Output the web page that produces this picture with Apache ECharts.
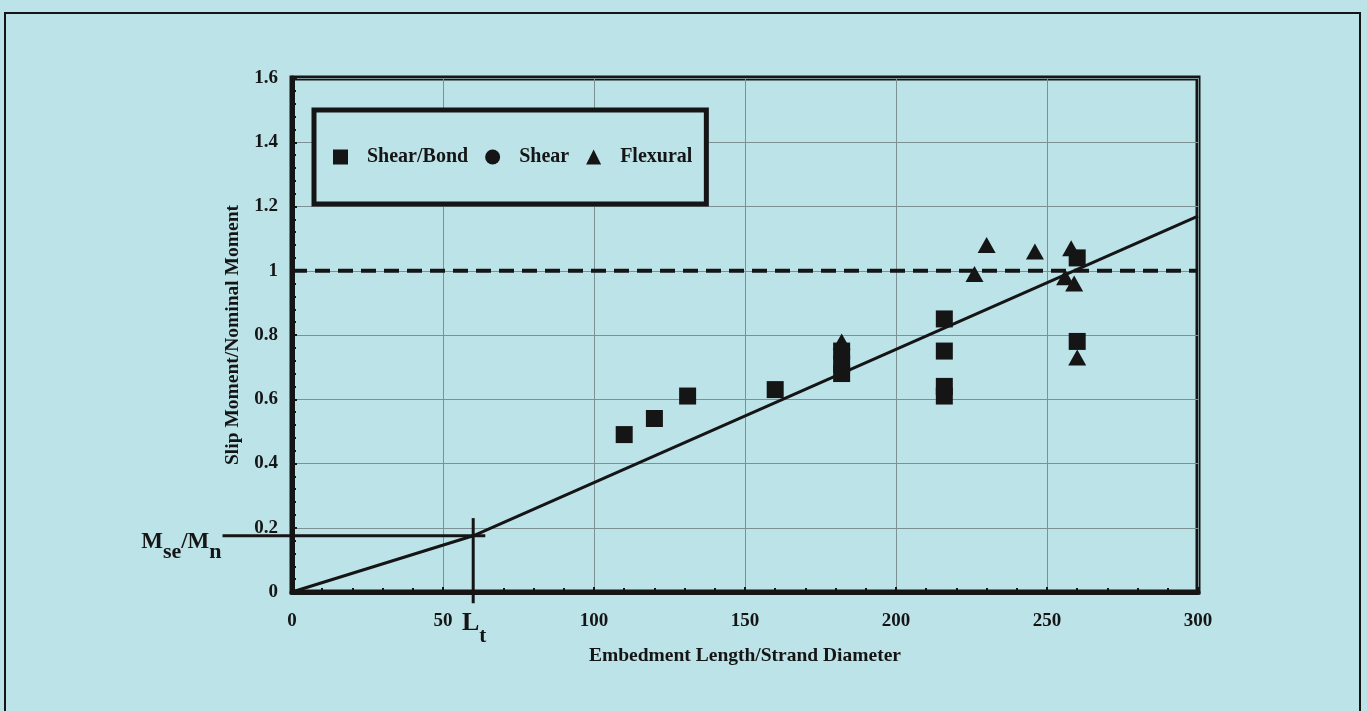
<!DOCTYPE html>
<html>
<head>
<meta charset="utf-8">
<title>Slip Moment vs Embedment Length</title>
<script src="https://cdn.jsdelivr.net/npm/echarts@6/dist/echarts.min.js"></script>
<style>
  html, body { margin: 0; padding: 0; background: #bce3e8; }
  #chart { width: 1367px; height: 711px; }
</style>
</head>
<body>
<div id="chart"></div>
<script>
// Axis ranges and tick steps
const xRange = [0, 300];
const xStep = 50;
const yRange = [0, 1.6];
const yStep = 0.2;

// Test results: [embedment length / strand diameter, slip moment / nominal moment]
const shearBond = [
  [110, 0.49], [120, 0.54], [131, 0.61], [160, 0.63],
  [182, 0.68], [182, 0.71], [182, 0.75],
  [216, 0.85], [216, 0.75], [216, 0.64], [216, 0.61],
  [260, 1.04], [260, 0.78]
];
const shear = [];
const flexural = [
  [182, 0.78], [230, 1.08], [226, 0.99], [246, 1.06],
  [258, 1.07], [256, 0.98], [259, 0.96], [260, 0.73]
];

// Bilinear trend: origin -> (Lt, Mse/Mn) -> end of range
const trendLine = [[0, 0], [60, 0.175], [300, 1.17]];
// Nominal capacity reference
const nominalLine = [[0, 1.0], [300, 1.0]];
// Construction lines marking Mse/Mn and Lt (they run past the plot frame)
const mseLine = [[-23, 0.175], [64, 0.175]];
const ltLine = [[60, 0.23], [60, -0.035]];

// Annotation pieces: [text, font size, subscript?]
const mseLabel = [['M', 23, false], ['se', 22, true], ['/M', 23, false], ['n', 22, true]];
const ltLabel = [['L', 26, false], ['t', 21, true]];

const serif = "'Liberation Serif', 'Times New Roman', serif";
const ink = '#151515';
const bg = '#bce3e8';
const gridColor = '#7d9194';

const chart = echarts.init(document.getElementById('chart'), null, { renderer: 'canvas' });

const option = {
  backgroundColor: bg,
  animation: false,
  textStyle: { fontFamily: serif, color: ink },
  grid: {
    left: 292, right: 169, top: 78, bottom: 119,
    show: true, borderColor: ink, borderWidth: 5, backgroundColor: 'transparent'
  },
  legend: {
    left: 314, top: 110,
    padding: [37, 14, 37, 19],
    backgroundColor: bg,
    borderColor: ink, borderWidth: 5,
    itemWidth: 15, itemHeight: 15, itemGap: 17,
    selectedMode: false,
    data: [
      { name: 'Shear/Bond', icon: 'rect' },
      { name: 'Shear', icon: 'circle' },
      { name: 'Flexural', icon: 'triangle' }
    ],
    formatter: name => '{t|' + name + '}',
    textStyle: {
      fontFamily: serif, fontWeight: 'bold', fontSize: 20, color: ink,
      rich: { t: { fontFamily: serif, fontWeight: 'bold', fontSize: 20, color: ink, padding: [0, 0, 0, 14] } }
    }
  },
  xAxis: {
    type: 'value', min: xRange[0], max: xRange[1], interval: xStep,
    name: 'Embedment Length/Strand Diameter', nameLocation: 'middle', nameGap: 54,
    nameTextStyle: { fontFamily: serif, fontWeight: 'bold', fontSize: 19.5, color: ink },
    axisLine: { show: true, lineStyle: { color: ink, width: 5 } },
    axisTick: { show: true, inside: true, length: 5, lineStyle: { color: ink, width: 2 } },
    minorTick: { show: true, splitNumber: 5, length: 4, lineStyle: { color: ink, width: 2 } },
    splitLine: { show: true, lineStyle: { color: gridColor, width: 1 } },
    axisLabel: { fontFamily: serif, fontWeight: 'bold', fontSize: 19, color: ink, margin: 20 }
  },
  yAxis: {
    type: 'value', min: yRange[0], max: yRange[1], interval: yStep,
    name: 'Slip Moment/Nominal Moment', nameLocation: 'middle', nameGap: 48,
    nameTextStyle: { fontFamily: serif, fontWeight: 'bold', fontSize: 19.5, color: ink },
    axisLine: { show: true, lineStyle: { color: ink, width: 5 } },
    axisTick: { show: true, inside: true, length: 5, lineStyle: { color: ink, width: 2 } },
    minorTick: { show: true, splitNumber: 5, length: 4, lineStyle: { color: ink, width: 2 } },
    splitLine: { show: true, lineStyle: { color: gridColor, width: 1 } },
    axisLabel: {
      fontFamily: serif, fontWeight: 'bold', fontSize: 19, color: ink, margin: 14,
      formatter: v => String(Math.round(v * 10) / 10)
    }
  },
  series: [
    {
      name: 'Nominal', type: 'line', data: nominalLine, symbol: 'none', z: 3,
      lineStyle: { color: ink, width: 4, type: [15, 8] }, silent: true
    },
    {
      name: 'Trend', type: 'line', data: trendLine, symbol: 'none', z: 4,
      lineStyle: { color: ink, width: 3 }, silent: true
    },
    {
      name: 'Shear/Bond', type: 'scatter', data: shearBond, symbol: 'rect', symbolSize: 17, z: 5,
      itemStyle: { color: ink, opacity: 1 }
    },
    {
      name: 'Shear', type: 'scatter', data: shear, symbol: 'circle', symbolSize: 15, z: 5,
      itemStyle: { color: ink, opacity: 1 }
    },
    {
      name: 'Flexural', type: 'scatter', data: flexural, symbol: 'triangle', symbolSize: [18, 16], z: 5,
      itemStyle: { color: ink, opacity: 1 }
    }
  ]
};

chart.setOption(option);

// Construction lines and their labels, placed through the chart's own axis scales
const px = p => chart.convertToPixel({ gridIndex: 0 }, p);
const m0 = px(mseLine[0]), m1 = px(mseLine[1]);
const l0 = px(ltLine[0]), l1 = px(ltLine[1]);

const measure = document.createElement('canvas').getContext('2d');
function textWidth(str, size) {
  measure.font = "bold " + size + "px 'Liberation Serif', serif";
  return measure.measureText(str).width;
}

// Lay out a label with subscripts, starting at left edge x; mainY / subY are glyph middles
function pieceTexts(pieces, x, mainY, subY) {
  const out = [];
  let cx = x;
  pieces.forEach(([str, size, sub]) => {
    out.push({
      type: 'text', silent: true, z: 50,
      x: cx, y: sub ? subY : mainY,
      style: {
        text: str, fontFamily: serif, fontWeight: 'bold', fontSize: size, fill: ink,
        align: 'left', verticalAlign: 'middle'
      }
    });
    cx += textWidth(str, size);
  });
  return out;
}
function piecesWidth(pieces) {
  return pieces.reduce((s, [str, size]) => s + textWidth(str, size), 0);
}

const mseW = piecesWidth(mseLabel);
const ltW = piecesWidth(ltLabel);
const mseTexts = pieceTexts(mseLabel, m0[0] - 1 - mseW, m0[1] + 6, m0[1] + 17);
const ltTexts = pieceTexts(ltLabel, l1[0] + 1 - ltW / 2, l1[1] + 20, l1[1] + 33);

chart.setOption({
  graphic: [
    {
      type: 'line', silent: true, z: 50,
      shape: { x1: m0[0], y1: m0[1], x2: m1[0], y2: m1[1] },
      style: { stroke: ink, lineWidth: 3 }
    },
    {
      type: 'line', silent: true, z: 50,
      shape: { x1: l0[0], y1: l0[1], x2: l1[0], y2: l1[1] },
      style: { stroke: ink, lineWidth: 3 }
    },
    ...mseTexts,
    ...ltTexts,
    {
      type: 'rect', silent: true, z: 100,
      shape: { x: 5, y: 13, width: 1355, height: 712 },
      style: { fill: 'none', stroke: ink, lineWidth: 2 }
    }
  ]
});
</script>
</body>
</html>
